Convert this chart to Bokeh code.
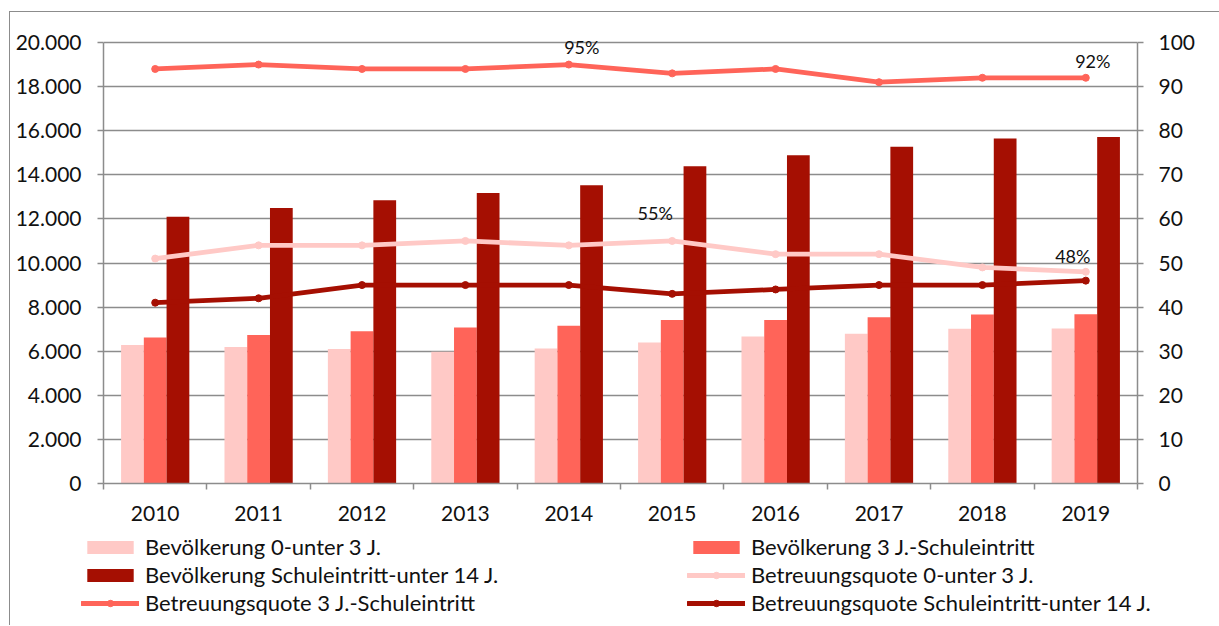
import numpy as np
from bokeh.plotting import figure
from bokeh.models import (Range1d, LinearAxis, FixedTicker, Legend, LegendItem,
                          LabelSet, ColumnDataSource)
from bokeh.core.properties import value
from bokeh.embed import file_html
from bokeh.resources import INLINE

# ---------------- data ----------------
years = ["2010", "2011", "2012", "2013", "2014", "2015", "2016", "2017", "2018", "2019"]
pop_0_3 = [6280, 6185, 6095, 5975, 6125, 6395, 6665, 6790, 7015, 7030]
pop_3_school = [6620, 6740, 6910, 7075, 7150, 7410, 7410, 7545, 7665, 7680]
pop_school_14 = [12100, 12500, 12850, 13180, 13530, 14390, 14890, 15270, 15645, 15710]
rate_0_3 = [51, 54, 54, 55, 54, 55, 52, 52, 49, 48]
rate_3_school = [94, 95, 94, 94, 95, 93, 94, 91, 92, 92]
rate_school_14 = [41, 42, 45, 45, 45, 43, 44, 45, 45, 46]

left_ticks = [0, 2000, 4000, 6000, 8000, 10000, 12000, 14000, 16000, 18000, 20000]
left_tick_labels = ["0", "2.000", "4.000", "6.000", "8.000", "10.000",
                    "12.000", "14.000", "16.000", "18.000", "20.000"]
right_ticks = [0, 10, 20, 30, 40, 50, 60, 70, 80, 90, 100]

names = ["Bevölkerung 0-unter 3 J.", "Bevölkerung 3 J.-Schuleintritt",
         "Bevölkerung Schuleintritt-unter 14 J.", "Betreuungsquote 0-unter 3 J.",
         "Betreuungsquote 3 J.-Schuleintritt", "Betreuungsquote Schuleintritt-unter 14 J."]

# labelled points (year indexes)
labelled_3_school = [4, 9]
labelled_0_3 = [5, 9]

# ---------------- styles ----------------
C_LIGHT = "#FFC9C6"
C_MID = "#FF6459"
C_DARK = "#A50F02"
GRID = "#8c8c8c"
FONT = "Lato"
TXT = "#111111"

n = len(years)
xs = np.arange(n) + 0.5
bw = 0.22

AXIS_H = 441          # pixel height of the 0..max axis
TOP_PAD = 14          # room above the axis for data labels
frac = (AXIS_H + TOP_PAD) / AXIS_H
lmax, rmax = left_ticks[-1], right_ticks[-1]
CANVAS_W = 1209

p = figure(frame_width=1034, frame_height=AXIS_H + TOP_PAD, output_backend="svg",
           toolbar_location=None,
           x_range=Range1d(0, n), y_range=Range1d(0, lmax * frac),
           min_border_left=93, min_border_right=CANVAS_W - 93 - 1034,
           min_border_top=30 - TOP_PAD, min_border_bottom=50)
p.outline_line_color = None
p.extra_y_ranges = {"rate": Range1d(0, rmax * frac)}
p.margin = (11, 0, 0, 9)
p.styles = {"border-top": "1px solid #8c8c8c", "border-left": "1px solid #8c8c8c"}

bar_styles = [(pop_0_3, -bw, C_LIGHT), (pop_3_school, 0, C_MID), (pop_school_14, bw, C_DARK)]
for vals, off, col in bar_styles:
    p.vbar(x=xs + off, top=vals, width=bw, fill_color=col, line_color=None)

line_styles = [(rate_0_3, C_LIGHT), (rate_3_school, C_MID), (rate_school_14, C_DARK)]
for vals, col in line_styles:
    p.line(xs, vals, line_color=col, line_width=4.8, y_range_name="rate", line_cap="round")
    p.scatter(xs, vals, size=7, fill_color=col, line_color=col, y_range_name="rate")

# data labels
lab_x = [xs[i] for i in labelled_3_school] + [xs[i] for i in labelled_0_3]
lab_y = [rate_3_school[i] for i in labelled_3_school] + [rate_0_3[i] for i in labelled_0_3]
lab_t = [f"{v}%" for v in lab_y]
lab_dx = [13, 7, -17, -13]
lab_dy = [18, 17, 28, 16]
lsrc = ColumnDataSource(dict(x=lab_x, y=lab_y, t=lab_t, dx=lab_dx, dy=lab_dy))
p.add_layout(LabelSet(x="x", y="y", text="t", source=lsrc, y_range_name="rate",
                      x_offset="dx", y_offset="dy", text_align="center", text_baseline="middle",
                      text_font=value(FONT), text_font_size=value("18px"), text_color=TXT))

# axes
p.xgrid.visible = False
p.ygrid.grid_line_color = GRID
p.ygrid.grid_line_width = 1.5
p.ygrid.ticker = FixedTicker(ticks=left_ticks)

xa = p.xaxis[0]
xa.ticker = FixedTicker(ticks=list(xs), minor_ticks=list(range(n + 1)))
xa.major_label_overrides = {float(x): y for x, y in zip(xs, years)}
xa.major_tick_out = 0
xa.major_tick_in = 0
xa.minor_tick_out = 6
xa.minor_tick_in = 0
xa.minor_tick_line_color = GRID
xa.minor_tick_line_width = 1.5
xa.axis_line_color = GRID
xa.axis_line_width = 1.5
xa.major_label_standoff = 16
xa.major_label_text_font = FONT
xa.major_label_text_font_size = "21px"
xa.major_label_text_color = TXT

ya = p.yaxis[0]
ya.ticker = FixedTicker(ticks=left_ticks, minor_ticks=[])
ya.major_label_overrides = {t: s for t, s in zip(left_ticks, left_tick_labels)}
ya.bounds = (0, lmax)

ra = LinearAxis(y_range_name="rate", ticker=FixedTicker(ticks=right_ticks, minor_ticks=[]),
                bounds=(0, rmax))
p.add_layout(ra, "right")
for ax in (ya, ra):
    ax.major_tick_out = 6
    ax.major_tick_in = 0
    ax.minor_tick_out = 0
    ax.minor_tick_in = 0
    ax.major_tick_line_color = GRID
    ax.major_tick_line_width = 1.5
    ax.axis_line_color = GRID
    ax.axis_line_width = 1.5
    ax.major_label_text_font = FONT
    ax.major_label_text_font_size = "21px"
    ax.major_label_text_color = TXT
ya.major_label_standoff = 16
ra.major_label_standoff = 15

# ---------------- legend strip (second root; same series, out of its view) ----------------
LEG_H = 92
q = figure(width=CANVAS_W, height=LEG_H, output_backend="svg", toolbar_location=None,
           x_range=Range1d(-200, -100), y_range=Range1d(-200, -100),
           x_axis_type=None, y_axis_type=None, min_border=0)
q.outline_line_color = None
q.grid.visible = False
q.margin = (0, 0, 0, 9)
q.styles = {"border-left": "1px solid #8c8c8c"}

leg_r = []
for vals, off, col in bar_styles:
    leg_r.append([q.vbar(x=xs + off, top=vals, width=bw, fill_color=col, line_color=None)])
for vals, col in line_styles:
    l = q.line(xs, vals, line_color=col, line_width=4.8, line_cap="round")
    s = q.scatter(xs, vals, size=7, fill_color=col, line_color=col)
    leg_r.append([l, s])

items = [LegendItem(label=nm, renderers=r) for nm, r in zip(names, leg_r)]
legend = Legend(items=items, location=(71, 9), orientation="horizontal", ncols=2,
                glyph_width=58, glyph_height=16, label_standoff=6, label_width=541,
                label_height=27, spacing=1, padding=0, margin=0,
                border_line_color=None, background_fill_alpha=0,
                label_text_font=FONT, label_text_font_size="22px", label_text_color=TXT)
q.add_layout(legend)

open("out.html", "w").write(file_html([p, q], INLINE))
